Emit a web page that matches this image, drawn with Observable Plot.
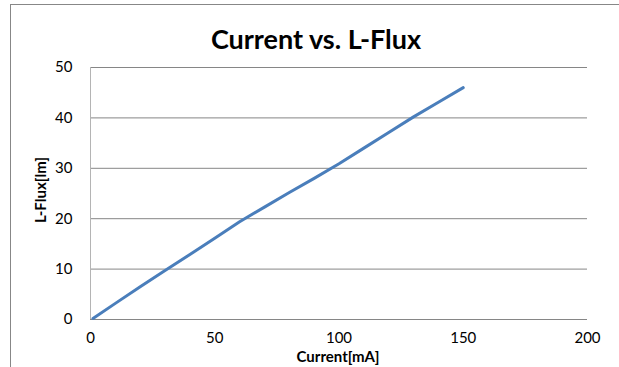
<!DOCTYPE html>
<html>
<head>
<meta charset="utf-8">
<script src="https://cdn.jsdelivr.net/npm/d3@7"></script>
<script src="https://cdn.jsdelivr.net/npm/@observablehq/plot@0.6"></script>
<style>
  html, body { margin: 0; padding: 0; background: #fff; }
  #wrap { position: relative; width: 619px; height: 367px; overflow: hidden; font-family: Lato, "Open Sans", sans-serif; }
  #frame { position: absolute; left: 10px; top: 4px; width: 700px; height: 500px; border-left: 1px solid #878787; border-top: 1px solid #878787; }
  #title { position: absolute; left: 0; width: 632px; top: 22px; text-align: center; font-weight: bold; font-size: 27px; color: #000; }
  #xtitle { position: absolute; left: 0; width: 676px; top: 349px; line-height: 15px; text-align: center; font-weight: bold; font-size: 15px; color: #000; }
  #ytitle { position: absolute; left: 40px; top: 190px; line-height: 15px; transform: translate(-50%, -50%) rotate(-90deg); white-space: nowrap; font-weight: bold; font-size: 15px; color: #000; }
  #chart { position: absolute; left: 0; top: 0; }
</style>
</head>
<body>
<div id="wrap">
  <div id="frame"></div>
  <div id="chart"></div>
  <div id="title">Current vs. L-Flux</div>
  <div id="xtitle">Current[mA]</div>
  <div id="ytitle">L-Flux[lm]</div>
</div>
<script>
const currentMA = [1, 10, 20, 30, 40, 50, 60, 70, 80, 90, 100, 110, 120, 130, 140, 150];
const fluxLm    = [0.2, 3.2, 6.5, 9.7, 12.9, 16.1, 19.4, 22.3, 25.2, 28.0, 30.9, 34.0, 37.1, 40.2, 43.1, 46.0];
const xTicks = [0, 50, 100, 150, 200];
const yTicks = [0, 10, 20, 30, 40, 50];

const data = currentMA.map((c, i) => ({current: c, flux: fluxLm[i]}));

const chart = Plot.plot({
  width: 619,
  height: 367,
  marginLeft: 90,
  marginRight: 32,
  marginTop: 67,
  marginBottom: 48,
  style: {background: "transparent", fontFamily: "Lato, 'Open Sans', sans-serif", fontSize: "15px", color: "#000"},
  x: {domain: [0, 200], ticks: xTicks},
  y: {domain: [0, 50], ticks: yTicks},
  marks: [
    Plot.gridY(yTicks, {stroke: "#868686", strokeOpacity: 1, strokeWidth: 1}),
    Plot.ruleX([0], {stroke: "#b4b4b4", strokeWidth: 1}),
    Plot.axisX(xTicks, {tickSize: 0, tickPadding: 13, label: null, fontSize: 15}),
    Plot.axisY(yTicks, {tickSize: 0, tickPadding: 18, label: null, fontSize: 15}),
    Plot.line(data, {x: "current", y: "flux", stroke: "#4a7ebb", strokeWidth: 3, curve: "linear"})
  ]
});
document.getElementById("chart").appendChild(chart);
</script>
</body>
</html>
